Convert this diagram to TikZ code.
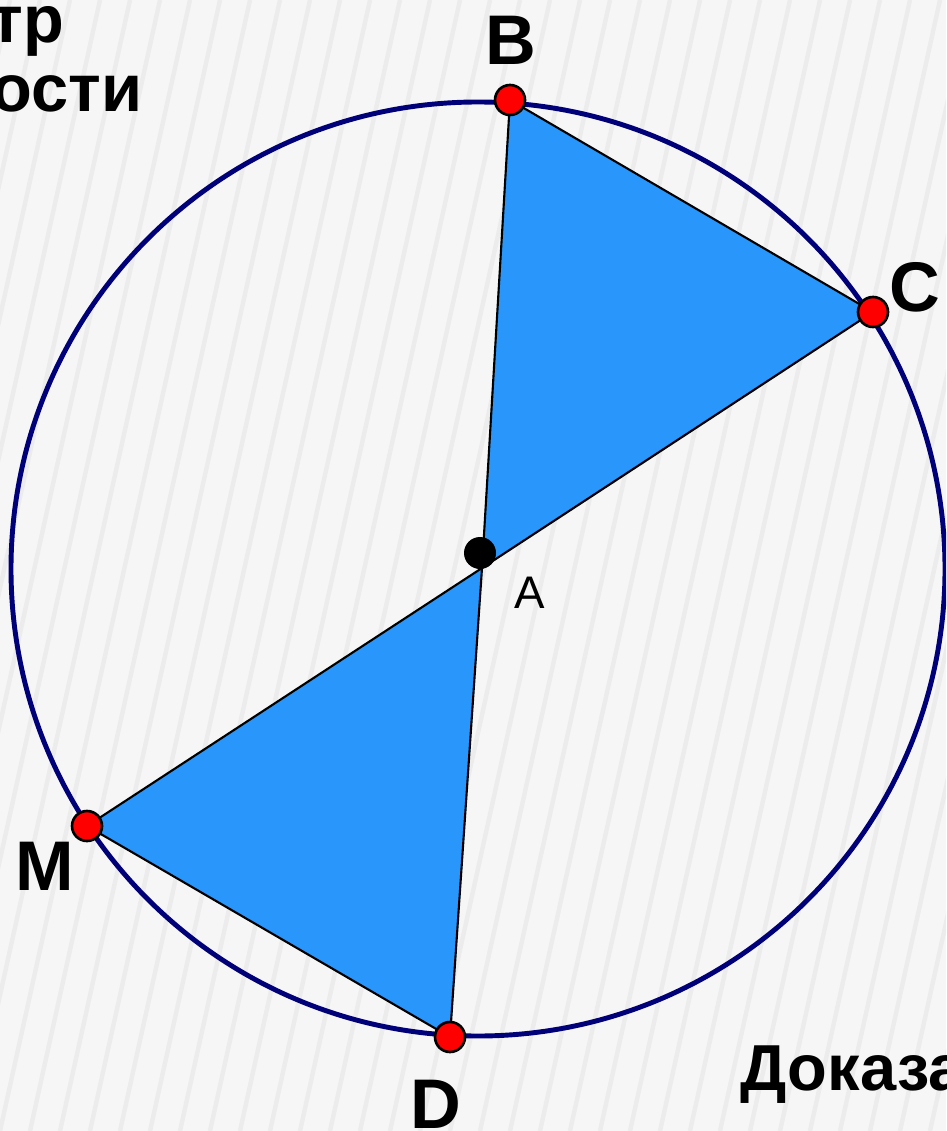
\documentclass[tikz,border=0pt]{standalone}
\usepackage{fontspec}
\setmainfont{Liberation Sans}
\usepackage{xcolor}
\usepackage{tikz}
\usetikzlibrary{calc}
\definecolor{fondo}{RGB}{246,246,246}
\definecolor{raya}{RGB}{236,236,236}
\definecolor{circazul}{RGB}{0,0,120}
\definecolor{triazul}{RGB}{40,150,250}
\definecolor{puntorojo}{RGB}{255,0,0}

\begin{document}
\begin{tikzpicture}[x=0.02cm, y=-0.02cm, line width=1pt]
    \useasboundingbox (0,0) rectangle (946,1131);
    \clip (0,0) rectangle (946,1131);
    \fill[fondo] (0,0) rectangle (946,1131);
    \foreach \k in {-300,-270,...,1100} \draw[raya,line width=2.5pt] (\k+250,0)--(\k,1131);
    % circunferencia y puntos
    \coordinate (O) at (478,569);
    \coordinate (B) at (510,100);
    \coordinate (C) at (873,312);
    \coordinate (M) at (87,826);
    \coordinate (D) at (450,1037);
    \coordinate (A) at (482,568);
    \draw[circazul,line width=2.8pt] (O) circle (467);
    \filldraw[fill=triazul,draw=black,line width=1.2pt] (B)--(C)--(A)--cycle;
    \filldraw[fill=triazul,draw=black,line width=1.2pt] (A)--(M)--(D)--cycle;
    \fill[black] (480,553) circle (16);
    \foreach \p in {B,C,M,D} \filldraw[fill=puntorojo,draw=black,line width=1.5pt] (\p) circle (15);
    % letras
    \node[anchor=base,font=\fontsize{40}{48}\selectfont\bfseries] (lB) at (511,65){B};
    \node[anchor=base,font=\fontsize{40}{48}\selectfont\bfseries] (lC) at (915,312){C};
    \node[anchor=base,font=\fontsize{40}{48}\selectfont\bfseries] (lM) at (45,890){M};
    \node[anchor=base,font=\fontsize{40}{48}\selectfont\bfseries] (lD) at (436,1128){D};
    \node[anchor=base,font=\fontsize{26}{31}\selectfont] (lA) at (530,608){A};
    \node[anchor=base east,inner sep=0pt,font=\fontsize{38}{46}\selectfont\bfseries] (t1) at (65,43){тр};
    \node[anchor=base east,inner sep=0pt,font=\fontsize{38}{46}\selectfont\bfseries] (t2) at (143,112){ости};
    \node[anchor=base west,inner sep=0pt,font=\fontsize{37}{44}\selectfont\bfseries] (t3) at (740,1090){Доказа};
\end{tikzpicture}
\end{document}
